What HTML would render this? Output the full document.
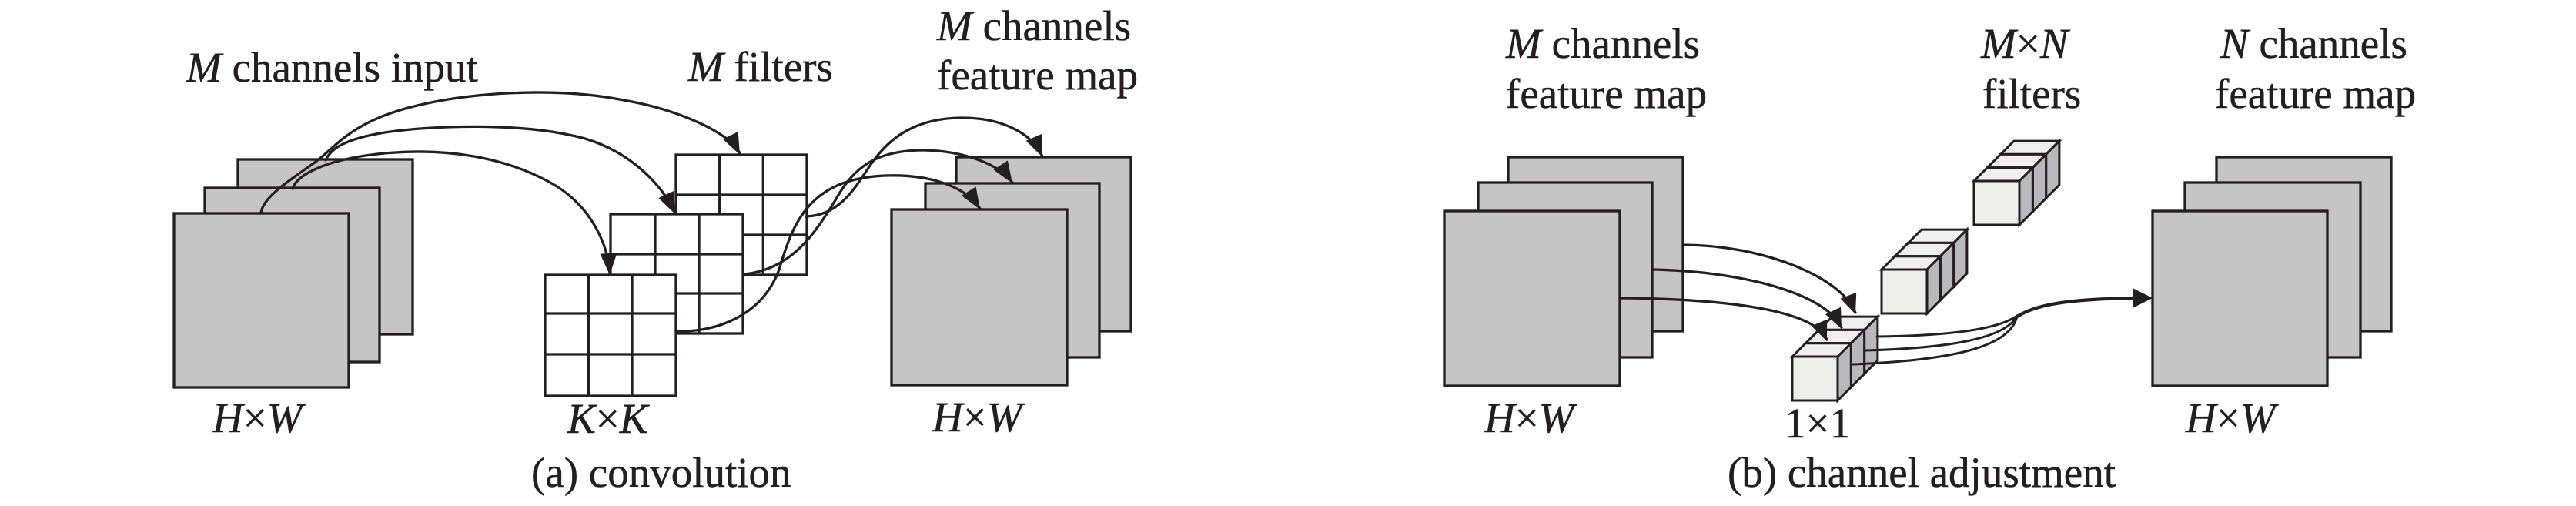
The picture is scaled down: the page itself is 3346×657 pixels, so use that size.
<!DOCTYPE html>
<html>
<head>
<meta charset="utf-8">
<style>
  html, body { margin: 0; padding: 0; background: #ffffff; }
  svg { display: block; }
  text { font-family: "Liberation Serif", serif; font-size: 55px; fill: #231f20; }
  .it { font-style: italic; }
</style>
</head>
<body>
<svg width="3346" height="657" viewBox="0 0 3346 657" xmlns="http://www.w3.org/2000/svg">
  <defs>
    <g id="cubes" stroke="#231f20" stroke-width="3" stroke-linejoin="miter">
      <polygon points="34.6,-34.6 51.9,-51.9 110.9,-51.9 93.6,-34.6" fill="#efefef"/>
      <polygon points="93.6,-34.6 110.9,-51.9 110.9,5.1 93.6,22.4" fill="#b9b9bb"/>
      <rect x="34.6" y="-34.6" width="59" height="57" fill="#eeeeec"/>
      <polygon points="17.3,-17.3 34.6,-34.6 93.6,-34.6 76.3,-17.3" fill="#efefef"/>
      <polygon points="76.3,-17.3 93.6,-34.6 93.6,22.4 76.3,39.7" fill="#b9b9bb"/>
      <rect x="17.3" y="-17.3" width="59" height="57" fill="#eeeeec"/>
      <polygon points="0,0 17.3,-17.3 76.3,-17.3 59,0" fill="#efefef"/>
      <polygon points="59,0 76.3,-17.3 76.3,39.7 59,57" fill="#b9b9bb"/>
      <rect x="0" y="0" width="59" height="57" fill="#eeeeec"/>
    </g>
  </defs>

  <rect x="0" y="0" width="3346" height="657" fill="#ffffff"/>

  <!-- ================= (a) convolution ================= -->
  <g stroke="#231f20" stroke-width="3.3" fill="#c6c5c6">
    <rect x="309" y="207" width="227" height="227"/>
    <rect x="266" y="244" width="227" height="226"/>
    <rect x="226" y="277" width="227" height="226"/>
  </g>

  <g stroke="#231f20" stroke-width="3.3" fill="#ffffff">
    <rect x="878" y="201" width="170" height="156"/>
    <line x1="934.7" y1="201" x2="934.7" y2="357"/>
    <line x1="991.3" y1="201" x2="991.3" y2="357"/>
    <line x1="878" y1="253" x2="1048" y2="253"/>
    <line x1="878" y1="305" x2="1048" y2="305"/>
    <rect x="793" y="278" width="172" height="155"/>
    <line x1="851" y1="278" x2="851" y2="433"/>
    <line x1="908" y1="278" x2="908" y2="433"/>
    <line x1="793" y1="330" x2="965" y2="330"/>
    <line x1="793" y1="381" x2="965" y2="381"/>
    <rect x="708" y="357" width="170" height="157"/>
    <line x1="764.5" y1="357" x2="764.5" y2="514"/>
    <line x1="821" y1="357" x2="821" y2="514"/>
    <line x1="708" y1="407" x2="878" y2="407"/>
    <line x1="708" y1="460" x2="878" y2="460"/>
  </g>

  <g stroke="#231f20" stroke-width="3.3" fill="#c6c5c6">
    <rect x="1242" y="204" width="227" height="226"/>
    <rect x="1202" y="238" width="226" height="226"/>
    <rect x="1158" y="272" width="228" height="228"/>
  </g>

  <g stroke="#231f20" stroke-width="3.3" fill="none" stroke-linecap="round">
    <path d="M339,277 C341,255 380,232 410,210 C436,191 455,160 530,140 C605,120 720,112 810,130 C880,142 948,172 961,199"/>
    <path d="M423,208 C430,192 450,180 500,172 C560,163 680,158 760,180 C820,198 860,240 877,277"/>
    <path d="M380,245 C385,228 420,208 490,200 C580,190 660,205 720,240 C770,270 790,320 792,355"/>
    <path d="M1047,281 C1090,280 1110,245 1130,215 C1155,178 1190,153 1250,153 C1300,153 1340,172 1354,203"/>
    <path d="M966,356 C1030,350 1060,300 1085,260 C1110,215 1140,195 1200,195 C1255,196 1300,215 1315,237"/>
    <path d="M878,430 C930,432 990,410 1012,350 C1030,290 1050,232 1150,228 C1210,226 1255,243 1273,271"/>
  </g>
  <g fill="#231f20" stroke="none">
    <polygon points="961,201 938.9,180.6 958.7,171"/>
    <polygon points="877,278 855.3,257.1 875.3,247.9"/>
    <polygon points="792,357 779.5,329.6 801.5,328.4"/>
    <polygon points="1354,204 1332.7,182.8 1352.9,174"/>
    <polygon points="1315,238 1290.5,220.5 1308.9,208.5"/>
    <polygon points="1273,272 1248.9,254 1267.6,242.4"/>
  </g>

  <!-- ================= (b) channel adjustment ================= -->
  <g stroke="#231f20" stroke-width="3.3" fill="#c6c5c6">
    <rect x="1959" y="204" width="227" height="226"/>
    <rect x="1920" y="237" width="226" height="227"/>
    <rect x="1876" y="274" width="228" height="227"/>
  </g>
  <g stroke="#231f20" stroke-width="3.3" fill="#c6c5c6">
    <rect x="2879" y="204" width="227" height="226"/>
    <rect x="2838" y="237" width="228" height="227"/>
    <rect x="2796" y="274" width="227" height="227"/>
  </g>

  <use href="#cubes" x="2564" y="235"/>
  <use href="#cubes" x="2444" y="350"/>
  <use href="#cubes" x="2328" y="463"/>

  <g stroke="#231f20" stroke-width="3.3" fill="none" stroke-linecap="round">
    <path d="M2186,318 C2290,318 2392,360 2410,406"/>
    <path d="M2146,350 C2260,352 2370,380 2392,425"/>
    <path d="M2104,387 C2230,388 2355,400 2373,441"/>
  </g>
  <g fill="#231f20" stroke="none">
    <polygon points="2410,408 2390.6,387.6 2411.2,379.8"/>
    <polygon points="2392,427 2371,408.1 2391,398.7"/>
    <polygon points="2373,443 2352.9,423.2 2373.1,414.8"/>
  </g>

  <g stroke="#231f20" stroke-width="3" fill="none" stroke-linecap="round">
    <path d="M2438,437 C2530,436 2595,428 2620,410"/>
    <path d="M2423,455 C2530,452 2605,440 2620,410"/>
    <path d="M2407,473 C2530,468 2612,452 2620,410"/>
  </g>
  <path d="M2616,414 C2640,395 2690,388 2774,387" stroke="#231f20" stroke-width="4.2" fill="none"/>
  <polygon points="2796,387 2771,374.5 2771,399.5" fill="#231f20"/>

  <!-- labels -->
  <g font-family="'Liberation Serif', serif" font-size="55" fill="#231f20" stroke="#231f20" stroke-width="0.5">
    <text x="242" y="106" style="font-family:'Liberation Serif',serif"><tspan class="it">M</tspan> channels input</text>
    <text x="894" y="105" style="font-family:'Liberation Serif',serif"><tspan class="it">M</tspan> filters</text>
    <text x="1217" y="52" style="font-family:'Liberation Serif',serif"><tspan class="it">M</tspan> channels</text>
    <text x="1217" y="116" style="font-family:'Liberation Serif',serif">feature map</text>
    <text x="276" y="561" style="font-family:'Liberation Serif',serif"><tspan class="it">H</tspan>×<tspan class="it">W</tspan></text>
    <text x="737" y="562" style="font-family:'Liberation Serif',serif"><tspan class="it">K</tspan>×<tspan class="it">K</tspan></text>
    <text x="1211" y="560" style="font-family:'Liberation Serif',serif"><tspan class="it">H</tspan>×<tspan class="it">W</tspan></text>
    <text x="690" y="632" style="font-family:'Liberation Serif',serif">(a) convolution</text>

    <text x="1956" y="75" style="font-family:'Liberation Serif',serif"><tspan class="it">M</tspan> channels</text>
    <text x="1956" y="140" style="font-family:'Liberation Serif',serif">feature map</text>
    <text x="2573" y="75" style="font-family:'Liberation Serif',serif"><tspan class="it">M</tspan>×<tspan class="it">N</tspan></text>
    <text x="2575" y="140" style="font-family:'Liberation Serif',serif">filters</text>
    <text x="2884" y="75" style="font-family:'Liberation Serif',serif"><tspan class="it">N</tspan> channels</text>
    <text x="2877" y="140" style="font-family:'Liberation Serif',serif">feature map</text>
    <text x="1928" y="561" style="font-family:'Liberation Serif',serif"><tspan class="it">H</tspan>×<tspan class="it">W</tspan></text>
    <text x="2318" y="568" style="font-family:'Liberation Serif',serif">1×1</text>
    <text x="2839" y="561" style="font-family:'Liberation Serif',serif"><tspan class="it">H</tspan>×<tspan class="it">W</tspan></text>
    <text x="2244" y="632" style="font-family:'Liberation Serif',serif">(b) channel adjustment</text>
  </g>
</svg>
</body>
</html>
